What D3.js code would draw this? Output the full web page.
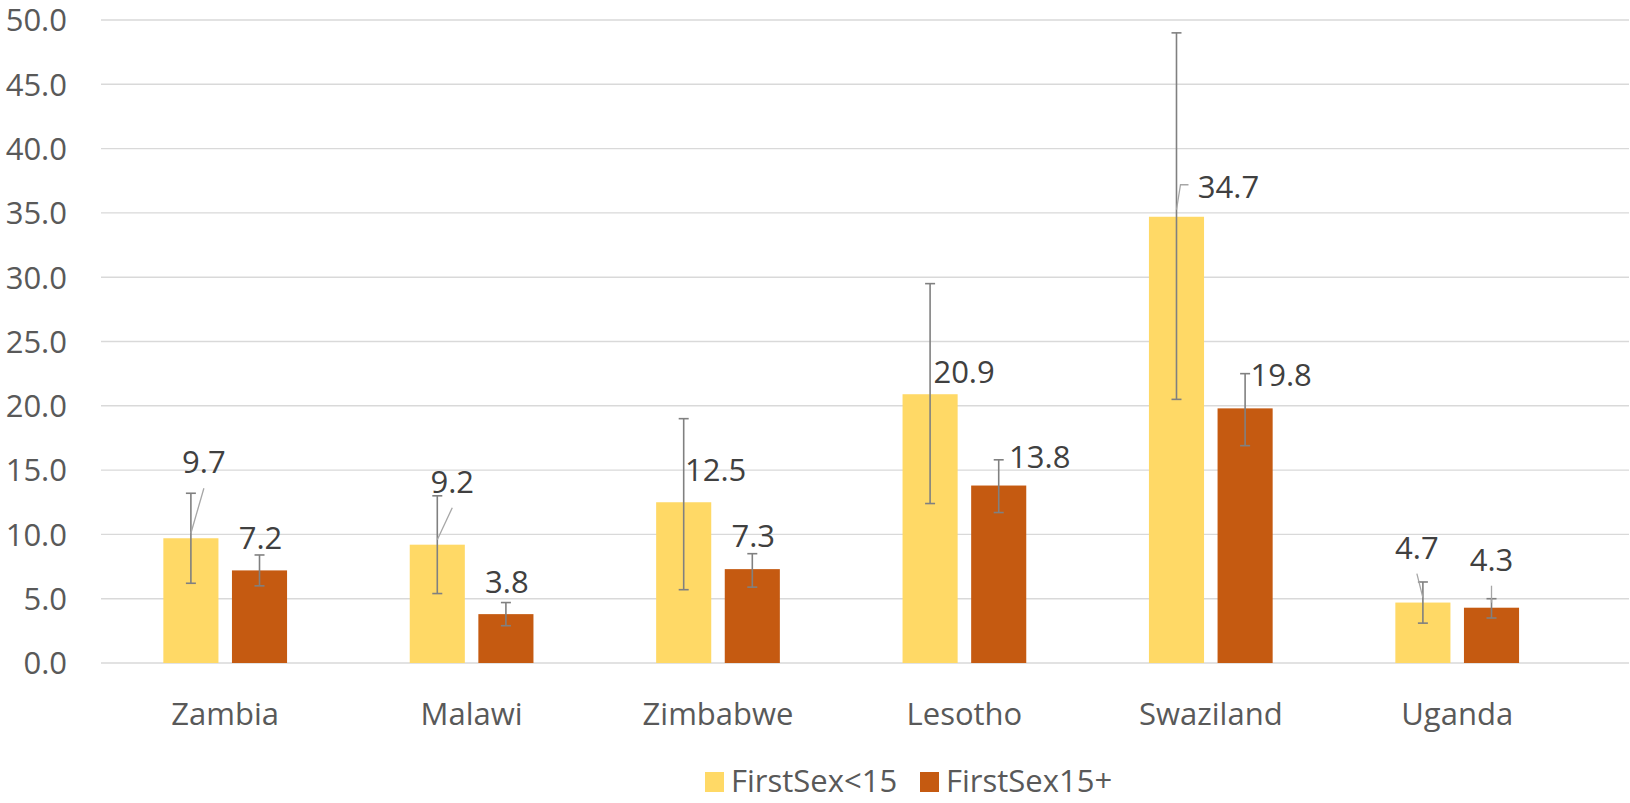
<!DOCTYPE html>
<html>
<head>
<meta charset="utf-8">
<script src="https://cdn.jsdelivr.net/npm/d3@7"></script>
<style>
	body { margin: 0; background: #fff; }
	svg { display: block; }
	text { font-family: "Open Sans", sans-serif; }
</style>
</head>
<body>
<div id="chart"></div>
<script>
// values
var countries = ["Zambia", "Malawi", "Zimbabwe", "Lesotho", "Swaziland", "Uganda"];
var seriesNames = ["FirstSex<15", "FirstSex15+"];
var under15 = [9.7, 9.2, 12.5, 20.9, 34.7, 4.7];
var over15 = [7.2, 3.8, 7.3, 13.8, 19.8, 4.3];
var under15Low = [6.2, 5.4, 5.7, 12.4, 20.5, 3.1];
var under15High = [13.2, 13.0, 19.0, 29.5, 49.0, 6.3];
var over15Low = [6.0, 2.9, 5.9, 11.7, 16.9, 3.5];
var over15High = [8.4, 4.7, 8.5, 15.8, 22.5, 5.0];
var yTicks = [0, 5, 10, 15, 20, 25, 30, 35, 40, 45, 50];

// label placement (pixel shift from the top of the bar), and leader style
var labelLayout = [
	[[13, -65, "line"], [15, -52, "line"], [32, -21], [34, -11], [52, -19, "elbow"], [-6, -44, "line"]],
	[[1, -21], [1, -21], [1, -22], [41, -18], [36, -22], [0, -37, "line"]]
];

var colors = ["#FFD966", "#C55A11"];

var W = 1630, H = 803;
var margin = { top: 20, right: 1, bottom: 140, left: 101 };

var svg = d3.select("#chart").append("svg")
	.attr("width", W)
	.attr("height", H);

var y = d3.scaleLinear()
	.domain([0, 50])
	.range([663, 20]);

var x0 = d3.scaleBand()
	.domain(countries)
	.range([102, 1580.4]);

var x1 = d3.scaleBand()
	.domain(seriesNames)
	.range([0, x0.bandwidth()])
	.paddingInner(0.197)
	.paddingOuter(0.894);

// gridlines
svg.append("g")
	.selectAll("line")
	.data(yTicks)
	.join("line")
	.attr("x1", margin.left)
	.attr("x2", W - margin.right)
	.attr("y1", function(d) { return y(d); })
	.attr("y2", function(d) { return y(d); })
	.attr("stroke", "#D9D9D9")
	.attr("stroke-width", 1.4);

// y axis labels
var yAxis = d3.axisLeft(y)
	.tickValues(yTicks)
	.tickFormat(d3.format(".1f"))
	.tickSize(0)
	.tickPadding(0);

var yAxisG = svg.append("g")
	.attr("transform", "translate(67,0)")
	.call(yAxis);
yAxisG.select(".domain").remove();
yAxisG.selectAll("text")
	.attr("font-family", "'Open Sans', sans-serif")
	.attr("font-size", 31)
	.attr("fill", "#595959")
	.attr("dy", "0.35em");

// x axis labels
var xAxis = d3.axisBottom(x0).tickSize(0).tickPadding(0);
var xAxisG = svg.append("g")
	.attr("transform", "translate(0,725)")
	.call(xAxis);
xAxisG.select(".domain").remove();
xAxisG.selectAll("text")
	.attr("font-family", "'Open Sans', sans-serif")
	.attr("font-size", 31)
	.attr("fill", "#595959")
	.attr("dy", 0);

var series = [
	{ name: seriesNames[0], values: under15, low: under15Low, high: under15High },
	{ name: seriesNames[1], values: over15, low: over15Low, high: over15High }
];

series.forEach(function(s, si) {
	var rows = countries.map(function(c, i) {
		return { country: c, value: s.values[i], low: s.low[i], high: s.high[i], lay: labelLayout[si][i] };
	});
	var g = svg.append("g");
	var cx = function(d) { return x0(d.country) + x1(s.name) + x1.bandwidth() / 2; };

	g.selectAll("rect")
		.data(rows)
		.join("rect")
		.attr("x", function(d) { return x0(d.country) + x1(s.name); })
		.attr("y", function(d) { return y(d.value); })
		.attr("width", x1.bandwidth())
		.attr("height", function(d) { return y(0) - y(d.value); })
		.attr("fill", colors[si]);

	// error bars
	var eb = g.selectAll("g.err")
		.data(rows)
		.join("g")
		.attr("class", "err")
		.attr("stroke", "#808080")
		.attr("stroke-width", 1.6);
	eb.append("line")
		.attr("x1", cx).attr("x2", cx)
		.attr("y1", function(d) { return y(d.low); })
		.attr("y2", function(d) { return y(d.high); });
	eb.append("line")
		.attr("x1", function(d) { return cx(d) - 5; }).attr("x2", function(d) { return cx(d) + 5; })
		.attr("y1", function(d) { return y(d.high); })
		.attr("y2", function(d) { return y(d.high); });
	eb.append("line")
		.attr("x1", function(d) { return cx(d) - 5; }).attr("x2", function(d) { return cx(d) + 5; })
		.attr("y1", function(d) { return y(d.low); })
		.attr("y2", function(d) { return y(d.low); });

	// leader lines
	g.selectAll("path.leader")
		.data(rows.filter(function(d) { return d.lay[2]; }))
		.join("path")
		.attr("class", "leader")
		.attr("fill", "none")
		.attr("stroke", "#A6A6A6")
		.attr("stroke-width", 1.3)
		.attr("d", function(d) {
			var lx = cx(d) + d.lay[0], ly = y(d.value) + d.lay[1];
			if (d.lay[2] === "elbow") {
				var left = lx - 32;
				return "M" + (left - 8) + "," + (ly - 13) + "H" + (left - 16) + "L" + cx(d) + "," + (y(d.value) - 7);
			}
			return "M" + lx + "," + (ly + 15) + "L" + cx(d) + "," + (y(d.value) - 5);
		});

	// data labels
	g.selectAll("text.lbl")
		.data(rows)
		.join("text")
		.attr("class", "lbl")
		.attr("x", function(d) { return cx(d) + d.lay[0]; })
		.attr("y", function(d) { return y(d.value) + d.lay[1]; })
		.attr("text-anchor", "middle")
		.attr("font-size", 31)
		.attr("fill", "#404040")
		.text(function(d) { return d3.format(".1f")(d.value); });
});

// legend
var legend = svg.append("g").attr("transform", "translate(705,772)");
var legendX = [0, 215];
seriesNames.forEach(function(n, i) {
	var lg = legend.append("g").attr("transform", "translate(" + legendX[i] + ",0)");
	lg.append("rect")
		.attr("width", 19)
		.attr("height", 20)
		.attr("fill", colors[i]);
	lg.append("text")
		.attr("x", 26)
		.attr("y", 20)
		.attr("font-size", 31)
		.attr("fill", "#595959")
		.text(n);
});
</script>
</body>
</html>
